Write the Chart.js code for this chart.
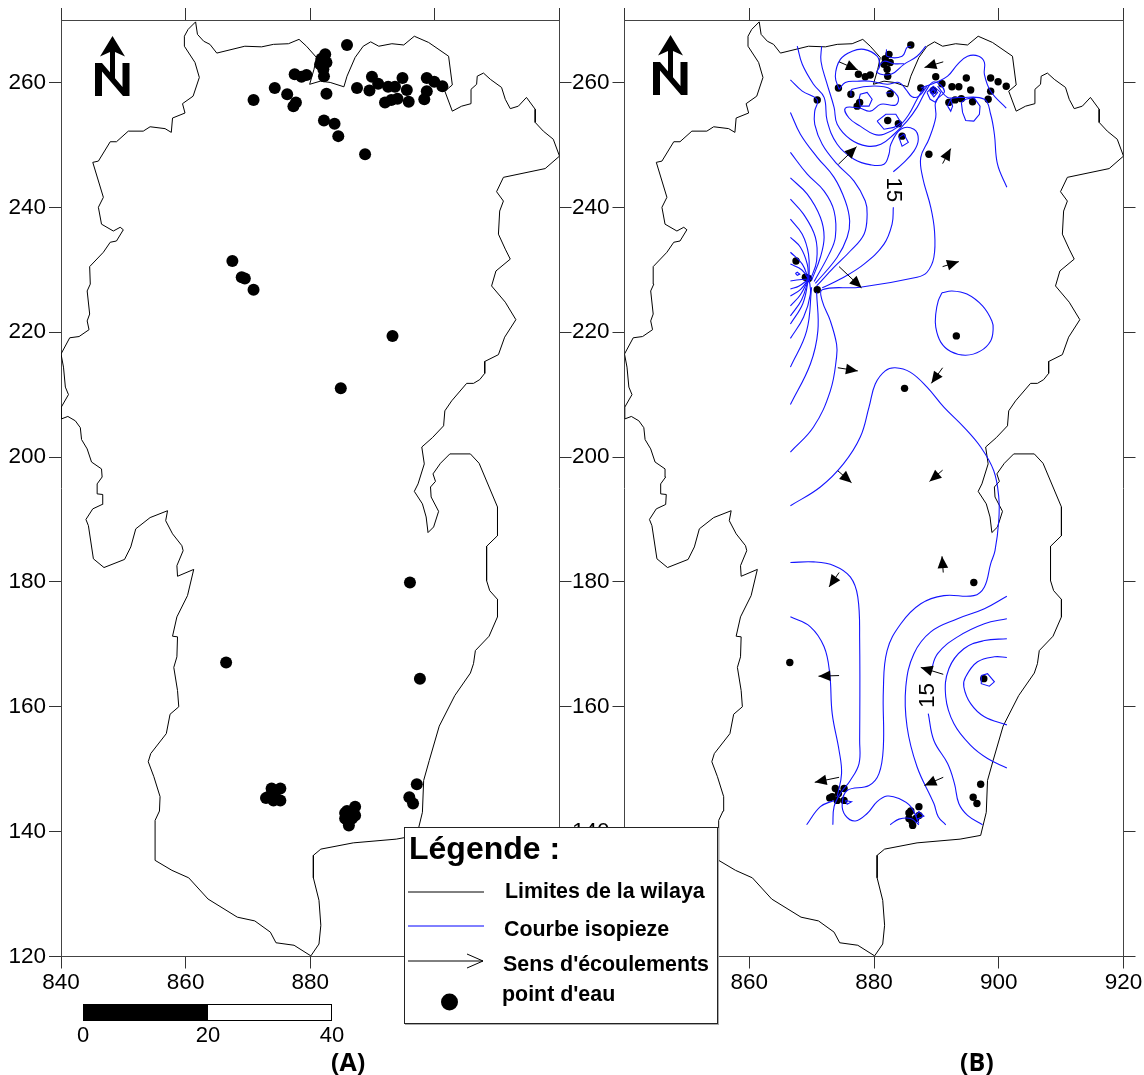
<!DOCTYPE html>
<html>
<head>
<meta charset="utf-8">
<script src="https://cdn.jsdelivr.net/npm/chart.js@4"></script>
<style>
body { margin: 0; background: #fff; font-family: "Liberation Sans", Arial, sans-serif; }
#page { position: relative; width: 1144px; height: 1075px; overflow: hidden; }
canvas { position: absolute; top: 0; }
.txt { position: absolute; white-space: nowrap; line-height: 1; color: #000; }
.leg { font-weight: bold; font-size: 21.4px; }
.sc { font-size: 22px; transform: translateX(-50%); }
#legende { position: absolute; left: 404px; top: 827px; width: 312px; height: 195px; background: #fff; border: 1px solid #222; box-shadow: 1px 1px 0 #aaa; }
</style>
</head>
<body>
<div id="page">
  <canvas id="mapA" width="580" height="1075" style="left:0"></canvas>
  <canvas id="mapB" width="580" height="1075" style="left:564px"></canvas>

  <svg class="nord" width="50" height="70" style="position:absolute;left:90px;top:32px" viewBox="90 32 50 70">
    <path d="M112.5 36 L125 56.5 L115 52 L115 84 L110 78 L110 52 L100 56.5 Z M95 63 L102 63 L122.5 87 L122.5 63 L129.5 63 L129.5 96 L123 96 L102 71.5 L102 96 L95 96 Z" fill="#000"/>
  </svg>
  <svg class="nord" width="50" height="70" style="position:absolute;left:648px;top:30.5px" viewBox="90 32 50 70">
    <path d="M112.5 36 L125 56.5 L115 52 L115 84 L110 78 L110 52 L100 56.5 Z M95 63 L102 63 L122.5 87 L122.5 63 L129.5 63 L129.5 96 L123 96 L102 71.5 L102 96 L95 96 Z" fill="#000"/>
  </svg>

  <div style="position:absolute;left:83px;top:1004px;width:125px;height:17px;background:#000"></div>
  <div style="position:absolute;left:208px;top:1004px;width:124px;height:17px;border:1px solid #000;border-left:0;box-sizing:border-box"></div>
  <span class="txt sc" style="left:83px;top:1024px">0</span>
  <span class="txt sc" style="left:208px;top:1024px">20</span>
  <span class="txt sc" style="left:332px;top:1024px">40</span>

  <div id="legende"></div>
  <span class="txt" style="left:409px;top:832px;font-size:32px;font-weight:bold">Légende :</span>
  <svg width="100" height="190" style="position:absolute;left:400px;top:830px">
    <line x1="8" y1="62" x2="84" y2="62" stroke="#000"/>
    <line x1="8" y1="96" x2="84" y2="96" stroke="#0000ff"/>
    <path d="M8 131 L83 131 M67 124 L83 131 L67 138" stroke="#000" fill="none"/>
    <circle cx="49.5" cy="172" r="8.5" fill="#000"/>
  </svg>
  <span class="txt leg" style="left:505px;top:881px">Limites de la wilaya</span>
  <span class="txt leg" style="left:504px;top:919px">Courbe isopieze</span>
  <span class="txt leg" style="left:503px;top:954px">Sens d'écoulements</span>
  <span class="txt leg" style="left:502px;top:984px">point d'eau</span>

  <span class="txt" style="left:331px;top:1049px;font-family:'Open Sans';font-weight:bold;font-size:25px">(A)</span>
  <span class="txt" style="left:960px;top:1049px;font-family:'Open Sans';font-weight:bold;font-size:25px">(B)</span>
</div>

<script>
var xTicks = [840, 860, 880, 900, 920];
var yTicks = [120, 140, 160, 180, 200, 220, 240, 260];

// limite de la wilaya (x, y en km)
var limite = [[861.6,269.7],[861.9,267.7],[862.9,266.6],[863.9,266.1],[865,264.7],[869.5,265.8],[872.2,265.7],[874.1,266.1],[876.5,266.2],[878.2,266.9],[879.4,265.8],[881,264],[880.6,262.1],[879.9,259.7],[881.6,260.2],[883.2,260],[885.4,259.3],[885.9,261],[887.2,264],[888.5,265.8],[889.7,266.5],[891,265.8],[893.1,266.2],[895,266],[896.7,267.4],[899,266.4],[902.2,264.2],[902.8,259.6],[901.6,258.6],[902.8,255.4],[904.3,256.2],[905.8,256.6],[905.8,258.9],[906.7,259.7],[906.8,261],[907.8,261.5],[908.9,260.5],[910.7,259.2],[911.3,257.3],[912.1,255.8],[913.4,256.2],[914.7,257.6],[916.1,255.7],[916.1,253.6],[917.4,252.2],[919,250.9],[920,248.2],[917.7,246.2],[911,244.8],[909.9,242.5],[911,241],[910.4,239.4],[910.2,235.7],[911.3,233.3],[912.1,231.7],[909.8,229.8],[909.1,227.4],[911.3,224.8],[913,222],
  [911.2,219.2],[910.2,216.4],[908,215.3],[908,213.4],[907.2,212.4],[906.2,211.8],[905.1,211.8],[902.7,209],[901.6,207.4],[901.4,205],[899.6,203.1],[897.9,201.6],[898.3,198.9],[897.3,195.7],[896.7,194.5],[898,192.5],[898.6,190.4],[898.9,187.9],[899.8,188.8],[900.6,191.3],[899.4,193.6],[899.3,195.2],[900.1,196.1],[899.7,197.3],[900.9,199],[902.4,200.5],[905.7,200.5],[907.1,199],[910.05,192],[910.05,187.4],[908.3,185.7],[908.3,180.2],[908.8,178.6],[910.05,177.2],[910.05,174.4],
  [908.7,171.3],[906.5,169],[906.2,166.9],[905.7,165.4],[903.2,161.8],[900.7,156.9],[899.1,151.4],[898.2,148.2],[898,143.1],[897.1,139.4],[893.8,138.8],[886.9,138.2],[881.7,137.2],[880.5,136.2],[880.5,132.6],[881.4,129],[881.7,125],[881.4,122],[880.1,120.1],[877.4,121.8],[874.5,122.2],[873.6,123.9],[871.1,125.7],[868.3,126.3],[863.6,129.2],[860.5,132.6],[857.8,133.8],[855.1,135.4],[855.1,141.8],[855.8,143.3],[855.9,145.6],[854.9,148.8],[854,151.2],[854.4,152.5],[856.9,155.7],[857.5,158.8],[858.9,160],[858.7,162.6],[858.1,166.3],[858.6,168],[858.7,171.2],[857.9,171.3],[858.6,174.4],
  [860.3,177.8],[861.3,182],[858.7,180.9],[858.6,182.6],[859.6,185],[859.4,185.8],[857.9,187.7],[856.8,189.8],[857.1,191.4],[854.3,190.3],[852,188.5],[851.2,185.6],[850.2,183.6],[846.9,182.3],[845.2,183.7],[844.4,189],[844,190],[845.1,191.7],[846.6,192.4],[846.7,194],[845.8,194.1],[845.8,195.7],[846.6,196.8],[846.5,198.1],[844.9,199.2],[844.2,201.3],[843.3,202.8],[843.1,204.7],[842.3,205.8],[841.1,206.5],[840.05,206.1],[840.05,208],[841.2,210],[840.7,211.2],[840.4,214.4],[840,216.5],[841.4,219.1],[842.9,219.3],[844.5,220.4],[844.2,221.8],
  [844.6,222.9],[844.2,226.6],[844.7,227.7],[844.6,230.5],[846.8,232.8],[847.9,234.4],[848.9,234.6],[850,236.4],[849.5,236.8],[848.4,236.2],[846.5,237.3],[846,240],[846.8,241.6],[845.1,247.2],[846,247.4],[847.9,250.5],[848.9,250.5],[850.8,252.2],[853.2,252.2],[854.3,252.9],[856.7,252.6],[857.7,252],[857.9,254.3],[859.9,255.1],[859.5,256.6],[861.2,257.8],[862.2,260.8],[861.5,263.2],[859.8,265.8],[859.8,267.4],[860.4,268.5],[861.6,269.7]];

// points d'eau
var pointsEau = [[885.9,266],[882.4,264.5],[881.8,263.8],[882.6,263.2],[881.6,262.9],[882.1,262.1],[882.2,261],[877.5,261.3],[878.6,260.9],[879.4,261.2],[874.3,259.1],[870.9,257.2],[876.3,258.1],[877.7,256.8],[877.3,256.2],[882.6,258.2],[882.2,253.9],[883.9,253.4],[884.5,251.4],[888.8,248.5],[887.5,259.1],[889.9,260.9],[889.5,258.7],[890.9,259.8],[892.5,259.3],[893.6,259.3],[894.8,260.7],[895.5,258.8],[892,256.8],[893,257.2],[894,257.4],[895.8,256.9],[898.7,260.7],[899.9,260.1],[901.2,259.4],[898.7,258.6],[898.3,257.3],[867.5,231.4],[869,228.8],[869.5,228.6],[870.9,226.8],[893.2,219.4],[884.9,211],[896,179.9],[866.5,167.1],[897.6,164.5],[897.1,147.6],[895.9,145.5],[896.5,144.5],[873.8,146.9],[875.2,146.9],[873.3,145.6],[874.1,145],[875.2,145],[874.3,146.1],[872.9,145.4],[887.2,144],[885.9,143.3],[887.2,142.6],[885.6,142.1],[886.1,141.6],[886.2,141],[886.7,142.1],[885.6,143]];

// courbes isopiezes ouest
var courbeC = [[866.6,260.4],[868.5,258.6],[870.9,257.2],[870.5,255.4],[870.5,253.3],[871.7,250.1],[874.1,246.9],[876.8,244.2],[878.6,241],[878.9,238.9],[878.4,235.7],[876.2,233],[873.6,230.4],[870.8,227.4]];
var courbeD = [[866.6,255.2],[868.2,251.7],[870.9,248],[873.6,244.8],[875.4,241],[876.1,237.8],[875.7,235.2],[874.1,232],[870.6,227.8]];
var courbeE = [[866.6,248.8],[869.3,245.3],[872,242.6],[873.6,239.4],[873.8,235.2],[872.8,232.5],[870.4,228.1]];
var courbeF = [[866.6,244.7],[869.3,242.1],[871.4,238.4],[872,235.2],[871.4,232],[870,228.3]];
var courbeG = [[866.6,241.3],[868.7,238.9],[870.6,235.2],[870.8,231.4],[869.8,228.4]];
var courbeH = [[866.6,238.1],[868.5,235.7],[869.5,232.5],[869.6,228.5]];
var courbeI = [[866.6,235.2],[868.2,233.6],[869.3,230.9],[869.5,228.5]];
var courbeJ = [[866.6,232.8],[868.5,230.9],[869.5,228.5]];
var courbeK = [[866.6,230.9],[868.4,230],[869.5,228.5]];
var courbeL = [[866.6,228.2],[868,228.4],[869.5,228.5]];
var courbeM = [[866.6,226.9],[868,227.4],[869.5,228.5]];
var courbeN = [[866.6,225.8],[868.2,226.8],[869.5,228.5]];
var courbeO = [[866.6,224.2],[868.2,226],[869.5,228.5]];
var courbeP = [[866.6,222.6],[868.4,225.2],[869.5,228.5]];
var courbeQ = [[866.6,221.3],[868.6,224.6],[869.5,228.5]];
var courbeR = [[866.6,219],[868.7,222.4],[869.8,226.1],[869.6,228.5]];
var courbeS = [[866.6,214.4],[869.2,220.2],[870,227.2]];
var courbeT = [[866.6,208.4],[869.8,214.9],[871,220.2],[870.8,226.4]];

// grande courbe, du nord jusqu'au point (870, 227)
var courbeA = [[871.6,265.8],[871.5,263.4],[872.4,260],[873.6,256],[874.1,253.3],[876.2,250.9],[878.9,249.8],[881.1,250.1],[883.2,251.7],[885.3,253.8],[886.9,256],[888.3,258.6],[889.6,260.1],[891.3,258.6],[889.9,257],[889.9,254.4],[888.8,250.9],[887.5,248],[887.8,244.8],[889.1,240],[889.7,236.2],[889.6,232],[888.5,229.6],[886.9,228.8],[877.8,227.2],[871.7,226.8],[871.7,225],[873,221.8],[874,218.1],[874,216],[873,210.6],[870.3,204.8],[866.6,200.8]];
var courbeB1 = [[867.7,265.8],[868.5,262.9],[870.3,259.7],[872,257.6],[872.5,253.8],[874.1,250.1],[876.8,247.7],[879.5,246.8],[881.6,246.9],[882.4,248.5],[882.7,250.1],[884.3,252.5],[886.4,252.5],[887.1,250.9],[886.4,249],[884.5,246.9],[883.1,245.7]];
var courbeB2 = [[883.1,240],[882.9,237.3],[881.6,234.1],[878.4,230.9],[874.6,228.5],[871.7,227.1]];

// secteur nord
var nord1 = [[874.4,258.9],[873.8,261],[874.6,263.7],[876.5,265],[878.4,265.3],[880.5,264.2],[880.9,262.6],[880.5,261.6],[882.7,261.3],[884.8,262.9],[886.9,264.2],[888.3,265.8]];
var nord2 = [[882,265.3],[882.1,264.2],[884.5,264.2],[885.3,265.6],[885.9,265.8]];
var nord3 = [[874.4,258.9],[875.4,260],[877.3,260.2],[879.4,260.2],[882.1,259.7],[884,260],[885.1,258.9],[886.1,257.7],[887.2,257.8],[888.5,259.4]];
var nord4 = [[887.5,259.1],[889.9,260],[891.8,261],[893.4,262.9],[895,264.2],[896.8,264.2],[897.7,263.2],[897.7,261.3],[898.7,258.6],[901.2,255.9]];
var nord5 = [[876.3,257.8],[876.5,258.9],[881.6,259.3],[883.8,257.8],[883.5,256.4],[881.1,256.5],[879.4,255.4],[877.6,255.9],[875.4,255.9],[876,254.3],[877.8,253],[880,251.7],[881.6,251.7],[884,253],[885.6,254.9],[886.9,257.3],[888,259.2]];
var nord6 = [[890.2,259.4],[891.8,257.6],[893.6,257.6],[897.7,257.3],[898.7,254.9],[899.3,251.7],[899.8,246.9],[901.3,243.2]];
var nord7 = [[881.9,258.3],[882.7,258.4]];
var nord8 = [[880.8,262.6],[881.6,263.4],[883.2,263],[884.8,263]];

// courbes fermees (petites boucles)
var boucle1 = [[877.6,257.3],[877.8,258.1],[878.9,258.4],[879.7,257.3],[879.2,256.2],[877.8,256.2],[877.6,257.3]];
var boucle2 = [[880.5,253.8],[881.9,254.9],[883.5,254.9],[884.3,253.6],[883.2,252.8],[881.6,252.5],[880.5,253.8]];
var boucle3 = [[884,251.2],[884.8,251.7],[885.5,250.4],[884.5,249.8],[884,251.2]];
var boucle4 = [[888.5,258.4],[889.5,259.4],[890.7,258.4],[889.9,256.8],[889,257.3],[888.5,258.4]];
var boucle5 = [[889,258.5],[889.5,259.1],[890.2,258.4],[889.6,257.7],[889,258.5]];
var boucle6 = [[889.2,258.6],[889.5,258.9],[889.8,258.5],[889.5,258.1],[889.2,258.6]];
var boucle7 = [[894,256.8],[894.7,257.3],[896,257.6],[897,256.2],[896.9,254.9],[896,253.8],[894.7,253.9],[894.2,255.2],[894,256.8]];
var boucle8 = [[891.8,256.2],[892.3,257.3],[892.6,256.2],[892.3,255.4],[891.8,256.2]];
var boucle9 = [[867.4,229.4],[867.7,229.6],[868.1,229.3],[867.7,229.1],[867.4,229.4]];
var boucle10 = [[897.2,165],[898.2,165.3],[899.3,164],[898.5,163.3],[897.2,163.7],[897.2,165]];
var boucle11 = [[875.4,145],[876.4,144.8],[875.7,144.4],[875.4,145]];
var boucle12 = [[886.7,142.6],[887.2,143.2],[888,142.5],[886.9,142],[886.7,142.6]];

// secteur centre et sud
var sud1 = [[890.9,226.3],[892.5,226.6],[894.9,226.1],[897.4,224.2],[898.9,221.8],[899.1,220.5],[898.7,218.6],[897.1,217],[894.7,216.3],[892.3,216.9],[890.7,218.4],[889.9,220.8],[889.9,222.9],[890.3,225],[890.9,226.3]];
var sud2 = [[866.6,192.2],[871.4,195.2],[875.1,198.9],[877.8,203.2],[879.2,208],[880.2,211.7],[881.8,213.8],[883.4,214.3],[885.8,213.6],[888.5,211.2],[891.2,208],[894.4,204.8],[897.1,201.6],[899.2,197.8],[900,193.6],[900,189.8],[899.4,185],[898.7,182.9],[897.7,179.2],[896,177.8],[891.2,177.8],[887.5,176.5],[884.3,173.3],[882.1,169],[881.5,162.6],[881.5,153.6],[880.8,149.3],[879.2,147.4],[875.7,146.6],[874.9,144.5],[875.4,142.6],[877,141.7],[878.9,142.9],[880.5,144.8],[882.1,145.7],[884,145.3],[885.9,144],[887.2,141.3]];
var sud3 = [[866.6,183.1],[870.3,183.2],[873.6,182.6],[876.2,180.8],[877.4,177.6],[877.7,170.6],[877.7,154.6],[877.6,150.9],[876.2,148.2],[874.6,146.1],[873.6,144],[873.4,141.1]];
var sud4 = [[866.6,174.4],[869.8,172.8],[872,169.6],[872.9,165.3],[873.3,158.9],[874.4,153],[874.8,149.3],[874.1,145.6]];
var sud5 = [[869.2,141.1],[871.4,144],[873.6,145]];
var sud6 = [[901.3,177.7],[897.7,175.7],[893.4,174.1],[889.1,172],[886.4,168.5],[885.1,163.2],[885.3,156.8],[886.9,150.4],[889.6,144.5],[890.3,142.4],[891.5,141.1]];
var sud7a = [[901.3,174.1],[897.7,173.3],[893.4,171.2],[890.2,168.5],[889.1,165.6]];
var sud7b = [[888.7,158.9],[889.6,154.6],[891.8,150.9],[892.9,147.7],[893.6,144.5],[895,142.6],[897.4,141.1]];
var sud8 = [[901.3,170.9],[897.7,170.6],[894.4,169.3],[892,166.1],[891.5,161.6],[892.8,157.3],[895.5,153.8],[898.2,151.7],[901.3,150.2]];
var sud9 = [[901.3,167.9],[899.3,168],[896.6,167.2],[894.7,164.8],[894.4,163.2],[895.5,160.5],[897.7,158.4],[901.3,157.1]];
var sud10 = [[882.6,141.1],[884,142],[885.9,142.1],[887.2,141.1]];

// sens d'ecoulement : x0, y0, x1, y1
var fleches = [[874.4,263.3,877.4,262],[891.1,263.3,888.1,262.4],[874.3,246.9,877.2,249.7],[891,247,892.3,249.4],[874.4,230.5,878,227.1],[891,230.5,893.6,231.3],[874.2,214.3,877.4,213.8],[891,214.3,889.2,211.8],[874.2,197.8,876.4,195.9],[891,197.9,888.9,196.1],[891.1,181.5,890.9,184.1],[874.4,181.5,872.8,179.2],[891.1,165.2,887.5,166.3],[874.4,165,871.1,164.9],[874.4,148.7,870.5,147.9],[891.1,148.7,888.1,147.4]];

// etiquettes des courbes : x, y, rotation (degres)
var cotes = [[883,242.8,90],[888.6,161.8,-90]];

var courbes = [courbeA, courbeB1, courbeB2, courbeC, courbeD, courbeE, courbeF, courbeG, courbeH, courbeI, courbeJ, courbeK, courbeL, courbeM, courbeN, courbeO, courbeP, courbeQ, courbeR, courbeS, courbeT,
  nord1, nord2, nord3, nord4, nord5, nord6, nord7, nord8, sud1, sud2, sud3, sud4, sud5, sud6, sud7a, sud7b, sud8, sud9, sud10];
var boucles = [boucle1, boucle2, boucle3, boucle4, boucle5, boucle6, boucle7, boucle8, boucle9, boucle10, boucle11, boucle12];

function versPoints(liste) {
    return liste.map(function (p) { return { x: p[0], y: p[1] }; });
}

function axeX(position, avecTexte, hauteur) {
    return {
        type: 'linear', position: position, min: 840, max: 920,
        afterBuildTicks: function (s) { s.ticks = xTicks.map(function (v) { return { value: v }; }); },
        afterFit: function (s) { s.height = hauteur; },
        border: { color: '#444' },
        grid: { drawOnChartArea: false, color: '#333', tickLength: 12 },
        ticks: { display: avecTexte, color: '#000', padding: 1, maxRotation: 0, font: { family: 'Liberation Sans', size: 22.5 } }
    };
}

function axeY(position, avecTexte, largeur) {
    return {
        type: 'linear', position: position, min: 120, max: 270,
        afterBuildTicks: function (s) { s.ticks = yTicks.map(function (v) { return { value: v }; }); },
        afterFit: function (s) { s.width = largeur; },
        border: { color: '#444' },
        grid: { drawOnChartArea: false, color: '#333', tickLength: 12 },
        ticks: { display: avecTexte, color: '#000', padding: 3, font: { family: 'Liberation Sans', size: 22.5 } }
    };
}

var dessinB = {
    id: 'dessinB',
    afterDatasetsDraw: function (chart) {
        var ctx = chart.ctx, sx = chart.scales.x, sy = chart.scales.y;
        ctx.save();
        fleches.forEach(function (f) {
            var x0 = sx.getPixelForValue(f[0]), y0 = sy.getPixelForValue(f[1]);
            var x1 = sx.getPixelForValue(f[2]), y1 = sy.getPixelForValue(f[3]);
            var a = Math.atan2(y1 - y0, x1 - x0);
            ctx.strokeStyle = '#000';
            ctx.lineWidth = 1;
            ctx.beginPath();
            ctx.moveTo(x0, y0);
            ctx.lineTo(x1, y1);
            ctx.stroke();
            ctx.fillStyle = '#000';
            ctx.beginPath();
            ctx.moveTo(x1, y1);
            ctx.lineTo(x1 - 13 * Math.cos(a - 0.42), y1 - 13 * Math.sin(a - 0.42));
            ctx.lineTo(x1 - 13 * Math.cos(a + 0.42), y1 - 13 * Math.sin(a + 0.42));
            ctx.closePath();
            ctx.fill();
        });
        ctx.font = '22.5px "Liberation Sans"';
        ctx.textAlign = 'center';
        ctx.textBaseline = 'middle';
        ctx.fillStyle = '#000';
        cotes.forEach(function (c) {
            ctx.save();
            ctx.translate(sx.getPixelForValue(c[0]), sy.getPixelForValue(c[1]));
            ctx.rotate(c[2] * Math.PI / 180);
            ctx.fillText('15', 0, 0);
            ctx.restore();
        });
        ctx.restore();
    }
};

function crearMapa(id, datasets, largeurGauche, plugins) {
    return new Chart(document.getElementById(id), {
        type: 'scatter',
        data: { datasets: datasets },
        plugins: plugins,
        options: {
            responsive: false,
            animation: false,
            layout: { padding: 0 },
            plugins: { legend: { display: false }, tooltip: { enabled: false } },
            scales: {
                x: axeX('bottom', true, 118.5),
                xHaut: axeX('top', false, 20),
                y: axeY('left', true, largeurGauche),
                yDroite: axeY('right', false, 20.5)
            }
        }
    });
}

crearMapa('mapA', [
    { data: versPoints(limite), showLine: true, borderColor: '#000', borderWidth: 1, pointRadius: 0, tension: 0, order: 3 },
    { data: versPoints(pointsEau), backgroundColor: '#000', borderWidth: 0, pointRadius: 6, order: 1 }
], 61, []);

var dsB = [
    { data: versPoints(limite), showLine: true, borderColor: '#000', borderWidth: 1, pointRadius: 0, tension: 0, order: 3 },
    { data: versPoints(pointsEau), backgroundColor: '#000', borderWidth: 0, pointRadius: 3.7, order: 2 }
];
courbes.forEach(function (c) {
    dsB.push({ data: versPoints(c), showLine: true, borderColor: '#1414ff', borderWidth: 1.1, pointRadius: 0, tension: 0.4, order: 1 });
});
boucles.forEach(function (c) {
    dsB.push({ data: versPoints(c), showLine: true, borderColor: '#1414ff', borderWidth: 1.1, pointRadius: 0, tension: 0, order: 1 });
});
crearMapa('mapB', dsB, 60.5, [dessinB]);
</script>
</body>
</html>
